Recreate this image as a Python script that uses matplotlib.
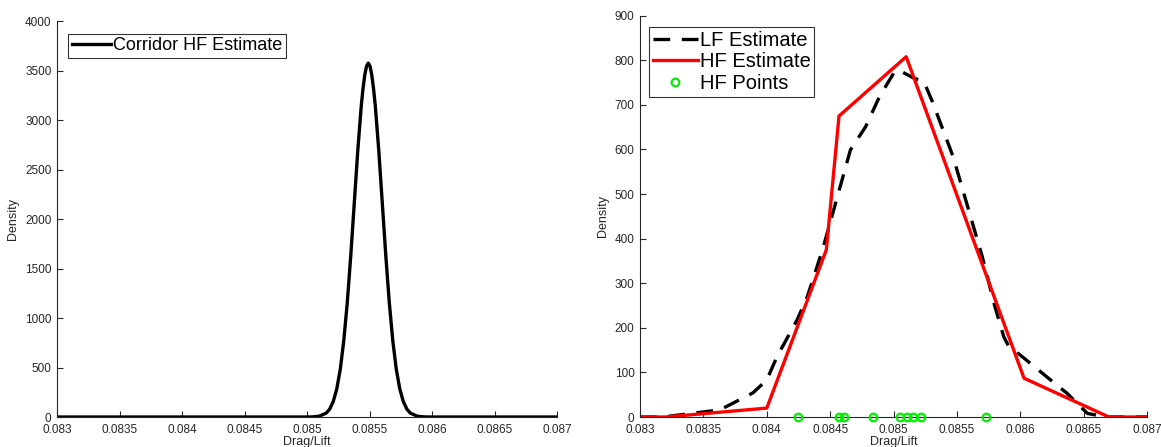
import numpy as np
import matplotlib
matplotlib.use("Agg")
from matplotlib import pyplot as plt

plt.rcParams['font.family'] = ['Liberation Sans', 'DejaVu Sans']

# left panel: corridor HF estimate (density)
corr_x = [0.083, 0.084986, 0.085042, 0.085098, 0.085154, 0.085182, 0.085210, 0.085238,
          0.085266, 0.085294, 0.085322, 0.085350, 0.085378, 0.085406, 0.085434, 0.085448,
          0.085462, 0.085476, 0.085490, 0.085504, 0.085518, 0.085532, 0.085546, 0.085574,
          0.085602, 0.085630, 0.085658, 0.085686, 0.085714, 0.085742, 0.085770, 0.085798,
          0.085826, 0.085882, 0.085938, 0.085994, 0.087]
corr_y = [0, 0, 1, 8, 40, 81, 157, 284, 482, 771, 1157, 1632, 2162, 2691, 3146, 3318,
          3455, 3543, 3575, 3543, 3455, 3318, 3146, 2691, 2162, 1632, 1157, 771, 482, 284,
          157, 81, 40, 8, 1, 0, 0]

# right panel
lf_x = [0.083, 0.08318, 0.08363, 0.08389, 0.08400, 0.08408, 0.08424, 0.08432, 0.08444,
        0.08462, 0.08466, 0.08478, 0.08489, 0.08501, 0.08504, 0.08516, 0.08524, 0.08531,
        0.08547, 0.08570, 0.08580, 0.08587, 0.08591, 0.08600, 0.08624, 0.08637, 0.08653,
        0.08668, 0.087]
lf_y = [0, 0, 16, 54, 83, 135, 218, 270, 375, 558, 599, 651, 719, 775, 778, 760, 752, 705,
        584, 360, 248, 180, 158, 139, 83, 53, 8, 0, 0]

hf_x = [0.083, 0.0832, 0.0840, 0.08447, 0.08457, 0.08510, 0.08603, 0.08670, 0.087]
hf_y = [0, 0, 20, 375, 675, 808, 87, 0, 0]

pts_x = [0.08425, 0.08457, 0.08461, 0.08484, 0.08505, 0.08511, 0.08515, 0.08522, 0.08573]
pts_y = [0] * len(pts_x)

xticks = [0.083, 0.0835, 0.084, 0.0845, 0.085, 0.0855, 0.086, 0.0865, 0.087]
xlabels = ['0.083', '0.0835', '0.084', '0.0845', '0.085', '0.0855', '0.086', '0.0865', '0.087']

fig = plt.figure(figsize=(11.61, 4.47), dpi=100)
ax1 = fig.add_axes([0.0491, 0.0671, 0.4307, 0.8859])
ax2 = fig.add_axes([0.5513, 0.0671, 0.4366, 0.8978])

def style(ax):
    for s in ['top', 'right']:
        ax.spines[s].set_visible(False)
    for s in ['left', 'bottom']:
        ax.spines[s].set_color('#262626')
        ax.spines[s].set_linewidth(0.8)
    ax.tick_params(direction='in', length=4, width=0.8, colors='#262626', labelsize=8.5)
    ax.tick_params(axis='x', pad=5)
    ax.tick_params(axis='y', pad=4)
    ax.set_xticks(xticks)
    ax.set_xticklabels(xlabels)
    ax.set_xlim(0.083, 0.087)
    ax.set_xlabel('Drag/Lift', fontsize=9, color='#262626', labelpad=0)
    ax.set_ylabel('Density', fontsize=9, color='#262626', labelpad=4)

ax1.plot(corr_x, corr_y, color='black', lw=2.4, label='Corridor HF Estimate')
ax1.set_ylim(0, 4000)
ax1.set_yticks(np.arange(0, 4001, 500))
style(ax1)
leg1 = ax1.legend(loc='upper left', bbox_to_anchor=(0.022, 0.968), fontsize=13,
                  frameon=True, fancybox=False, handlelength=2.2, handletextpad=0.1,
                  borderpad=0.2, borderaxespad=0)
leg1.get_frame().set_edgecolor('black')
leg1.get_frame().set_linewidth(0.8)

ax2.plot(lf_x, lf_y, color='black', lw=2.4, ls=(0, (5, 3.5)), label='LF Estimate')
ax2.plot(hf_x, hf_y, color='red', lw=2.4, label='HF Estimate')
ax2.plot(pts_x, pts_y, 'o', mfc='none', mec='#00ee00', mew=1.6, ms=5.5,
         label='HF Points', clip_on=False, zorder=5)
ax2.set_ylim(0, 900)
ax2.set_yticks(np.arange(0, 901, 100))
style(ax2)
leg2 = ax2.legend(loc='upper left', bbox_to_anchor=(0.018, 0.972), fontsize=14.5,
                  frameon=True, fancybox=False, handlelength=2.2, handletextpad=0.1,
                  borderpad=0.2, borderaxespad=0, labelspacing=0.12)
leg2.get_frame().set_edgecolor('black')
leg2.get_frame().set_linewidth(0.8)

fig.savefig('out.png', dpi=100)
